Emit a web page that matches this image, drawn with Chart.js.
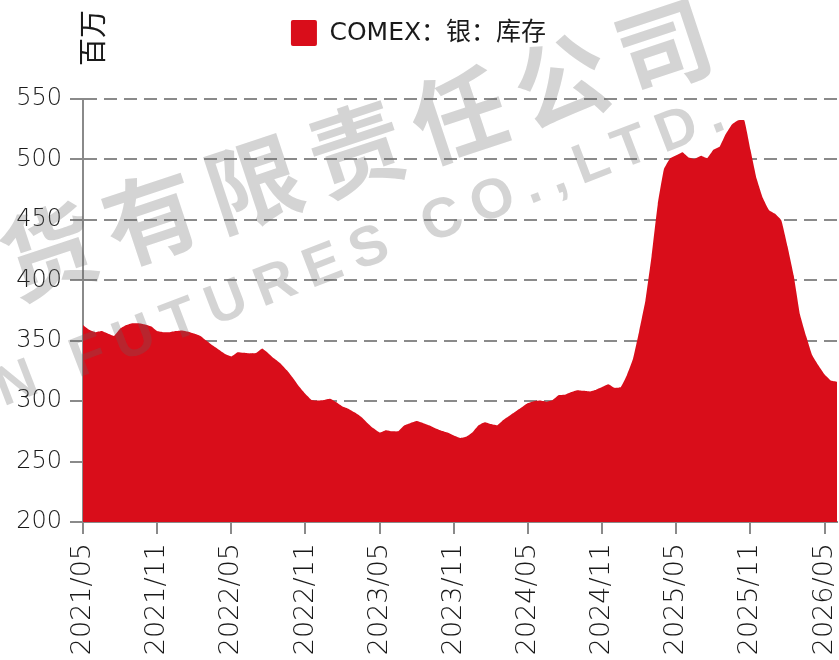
<!DOCTYPE html>
<html>
<head>
<meta charset="utf-8">
<script src="https://cdn.jsdelivr.net/npm/chart.js@4.4.1/dist/chart.umd.min.js"></script>
<style>
    html, body { margin: 0; padding: 0; background: #fff; }
    #wrap { width: 839px; height: 660px; }
</style>
</head>
<body>
<div id="wrap"><canvas id="stockChart" width="839" height="660"></canvas></div>
<script>
// COMEX silver stocks (million oz), one reading every half month from 2021/05
const startYear = 2021;
const startMonth = 5;
const stockValues = [
    363, 359, 357, 358, 356, 354, 360, 363, 364.5, 364.5,
    363.5, 362, 358, 357, 357, 358, 358.5, 357.5, 356, 354,
    350, 346, 342.5, 339, 337, 340.5, 340, 339.5, 339.8, 343.5,
    339.5, 335, 331, 325.5, 319, 312, 306, 301, 300.5, 301,
    302, 299, 295.5, 293.5, 290.5, 287, 282, 277.5, 274, 276,
    275, 275, 280, 282, 283.6, 282, 280, 277.5, 275.5, 274,
    271.5, 269.5, 270.5, 274, 280, 282.5, 281, 280, 284.5, 288,
    291.5, 295, 298.5, 300, 300.5, 299.5, 301, 305, 305.3, 307.5,
    309, 308.5, 308, 309.5, 311.7, 314, 311, 311.5, 321.5, 335,
    358, 383, 420, 463, 492, 501, 503.5, 506, 501.6, 500.5,
    503, 501, 508, 510.5, 521, 529, 532.5, 532.5, 508, 484,
    468, 458, 455, 449.5, 428, 404, 372, 354, 338, 329.5,
    322, 317, 316
];
const tickEvery = 12;            // one label every 6 months
const yMin = 200, yMax = 550, yStep = 50;

const seriesName = 'COMEX：银：库存';
const unitLabel = '百万';

const colors = {
    fill: '#d90d1a',
    axis: '#8a8a8a',
    text: '#1a1a1a',
    watermark: 'rgba(100, 100, 100, 0.28)'
};

// half-month category labels
const labels = stockValues.map((_, i) => {
    const m = startMonth - 1 + Math.floor(i / 2);
    const y = startYear + Math.floor(m / 12);
    const mm = String(m % 12 + 1).padStart(2, '0');
    return y + '/' + mm;
});

const FONT = "'DejaVu Sans', 'Noto Sans CJK SC', sans-serif";

// unit text above the y axis, and the faint company watermark
const extrasPlugin = {
    id: 'extras',
    afterDraw(chart) {
        const ctx = chart.ctx;
        const area = chart.chartArea;

        ctx.save();
        ctx.fillStyle = colors.text;
        ctx.font = "28px 'Noto Sans CJK SC', sans-serif";
        ctx.textAlign = 'center';
        ctx.textBaseline = 'middle';
        ctx.translate(area.left + 9, 38);
        ctx.rotate(-Math.PI / 2);
        ctx.fillText(unitLabel, 0, 0);
        ctx.restore();

        ctx.save();
        ctx.fillStyle = colors.watermark;
        ctx.textAlign = 'left';
        ctx.textBaseline = 'middle';
        ctx.font = "bold 94px 'Noto Sans CJK SC', sans-serif";
        ctx.letterSpacing = '14px';
        ctx.translate(4, 266);
        ctx.rotate(-18.4 * Math.PI / 180);
        ctx.fillText('货有限责任公司', 0, 0);
        ctx.restore();

        ctx.save();
        ctx.fillStyle = colors.watermark;
        ctx.textAlign = 'left';
        ctx.textBaseline = 'middle';
        ctx.font = "bold 56px 'Liberation Sans', sans-serif";
        ctx.letterSpacing = '12px';
        ctx.translate(-2, 392);
        ctx.rotate(-21 * Math.PI / 180);
        ctx.fillText('N FUTURES CO.,LTD.', 0, 0);
        ctx.restore();
    }
};

const chart = new Chart(document.getElementById('stockChart').getContext('2d'), {
    type: 'line',
    data: {
        labels: labels,
        datasets: [{
            label: seriesName,
            data: stockValues,
            backgroundColor: colors.fill,
            borderColor: colors.fill,
            borderWidth: 0,
            pointRadius: 0,
            tension: 0.1,
            fill: 'start'
        }]
    },
    options: {
        responsive: false,
        animation: false,
        devicePixelRatio: 1,
        layout: {
            padding: { top: 10, right: 2, bottom: 0, left: 0 }
        },
        plugins: {
            legend: {
                position: 'top',
                labels: {
                    boxWidth: 26,
                    boxHeight: 26,
                    useBorderRadius: true,
                    borderRadius: 2,
                    color: colors.text,
                    padding: 10,
                    font: { family: FONT, size: 25 }
                }
            },
            // empty spacer between the legend and the plot area
            subtitle: {
                display: true,
                text: ' ',
                weight: 500,
                font: { size: 10 },
                padding: { top: 0, bottom: 31 }
            },
            tooltip: { enabled: false }
        },
        scales: {
            x: {
                type: 'category',
                afterFit(scale) {
                    scale.height = 138;
                    scale.paddingLeft = 0;
                    scale.paddingRight = 0;
                },
                grid: {
                    drawOnChartArea: false,
                    drawTicks: true,
                    tickLength: 12,
                    color: colors.axis,
                    lineWidth: 2
                },
                border: { display: true, color: colors.axis, width: 2 },
                ticks: {
                    autoSkip: false,
                    minRotation: 90,
                    maxRotation: 90,
                    padding: 9,
                    color: colors.text,
                    font: { family: FONT, size: 27, weight: '200' },
                    callback(value, index) {
                        return index % tickEvery === 0 ? labels[index] : null;
                    }
                }
            },
            y: {
                min: yMin,
                max: yMax,
                afterFit(scale) { scale.width = 83; },
                grid: {
                    color: colors.axis,
                    lineWidth: 2,
                    tickBorderDash: [],
                    tickLength: 13,
                    drawTicks: true
                },
                // in v4 the dash of the grid lines comes from border.dash
                border: { display: true, color: colors.axis, width: 2, dash: [13, 7] },
                ticks: {
                    stepSize: yStep,
                    padding: 8,
                    color: colors.text,
                    font: { family: FONT, size: 24, weight: '200' }
                }
            }
        }
    },
    plugins: [extrasPlugin]
});
</script>
</body>
</html>
